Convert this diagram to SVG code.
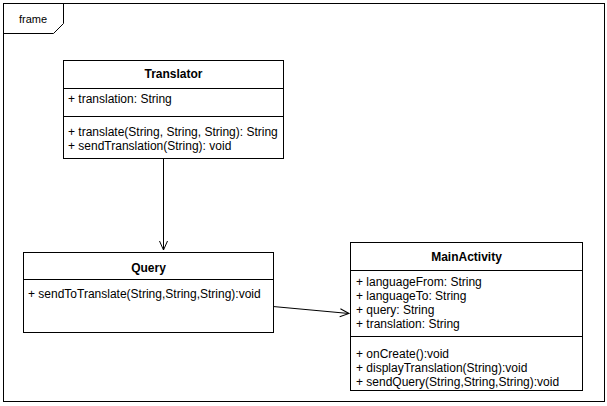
<svg xmlns="http://www.w3.org/2000/svg" width="607" height="406" viewBox="0 0 607 406">
<style>
.box{fill:#fff;stroke:#000;stroke-width:1}
.ln{stroke:#000;stroke-width:1;fill:none}
.t{font-family:"Liberation Sans",Arial,sans-serif;font-size:12px;fill:#000}
.h{font-family:"Liberation Sans",Arial,sans-serif;font-size:12px;font-weight:bold;fill:#000;text-anchor:middle}
</style>
<defs>
<marker id="open" markerWidth="12" markerHeight="12" refX="10" refY="5" orient="auto" markerUnits="userSpaceOnUse">
<path d="M1,1 L10,5 L1,9" fill="none" stroke="#000" stroke-width="1"/>
</marker>
</defs>
<rect width="607" height="406" fill="#fff"/>
<g id="frame">
<rect class="ln" x="3.5" y="3.5" width="601" height="398"/>
<path class="ln" d="M3.5,33.5 H53.5 L63.5,23.5 V3.5"/>
<text class="t" x="33" y="23" text-anchor="middle" style="font-size:11px">frame</text>
</g>
<g id="connectors">
<line class="ln" x1="163.5" y1="159" x2="163.5" y2="250" marker-end="url(#open)"/>
<line class="ln" x1="273" y1="306.5" x2="349" y2="313.5" marker-end="url(#open)"/>
</g>
<g id="Translator">
<rect class="box" x="63.5" y="60.5" width="220" height="98"/>
<line class="ln" x1="63.5" y1="88.5" x2="283.5" y2="88.5"/>
<line class="ln" x1="63.5" y1="116.5" x2="283.5" y2="116.5"/>
<text class="h" x="173.5" y="78">Translator</text>
<text class="t" x="68" y="103">+ translation: String</text>
<text class="t" x="68" y="136">+ translate(String, String, String): String</text>
<text class="t" x="68" y="150">+ sendTranslation(String): void</text>
</g>
<g id="Query">
<rect class="box" x="23.5" y="252.5" width="250" height="80"/>
<line class="ln" x1="23.5" y1="279.5" x2="273.5" y2="279.5"/>
<text class="h" x="148.5" y="272">Query</text>
<text class="t" x="28" y="298">+ sendToTranslate(String,String,String):void</text>
</g>
<g id="MainActivity">
<rect class="box" x="350.5" y="242.5" width="232" height="148"/>
<line class="ln" x1="350.5" y1="270.5" x2="582.5" y2="270.5"/>
<line class="ln" x1="350.5" y1="336.5" x2="582.5" y2="336.5"/>
<text class="h" x="466.5" y="261">MainActivity</text>
<text class="t" x="356" y="286">+ languageFrom: String</text>
<text class="t" x="356" y="300">+ languageTo: String</text>
<text class="t" x="356" y="314">+ query: String</text>
<text class="t" x="356" y="328">+ translation: String</text>
<text class="t" x="356" y="358">+ onCreate():void</text>
<text class="t" x="356" y="372">+ displayTranslation(String):void</text>
<text class="t" x="356" y="386">+ sendQuery(String,String,String):void</text>
</g>
</svg>
